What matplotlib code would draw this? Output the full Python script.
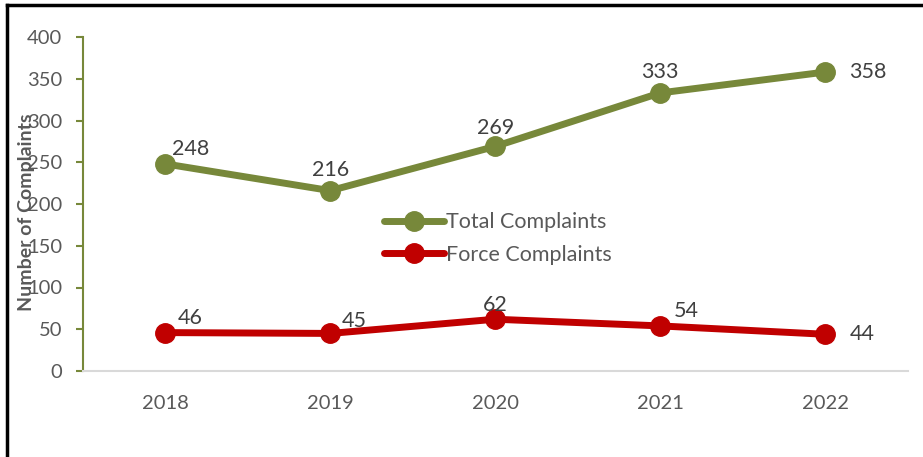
import matplotlib.pyplot as plt
from matplotlib.lines import Line2D

years = ['2018', '2019', '2020', '2021', '2022']
total = [248, 216, 269, 333, 358]
force = [46, 45, 62, 54, 44]

# label offsets in pixels (dx, dy) from each point
total_off = [(25, 15), (0, 21), (0, 18), (0, 21), (43, 0)]
force_off = [(25, 15), (24, 12), (0, 14), (26, 15), (37, 0)]

olive = '#77883A'
red = '#C00000'
grey = '#595959'

plt.rcParams['font.family'] = ['Lato', 'DejaVu Sans']

fig = plt.figure(figsize=(9.23, 4.57), dpi=100)
ax = fig.add_axes([83/923, 1-371/457, (907.5-83)/923, (371-37)/457])

x = range(len(years))
ax.plot(x, total, color=olive, lw=5, marker='o', ms=14, label='Total Complaints', solid_capstyle='round')
ax.plot(x, force, color=red, lw=5, marker='o', ms=14, label='Force Complaints', solid_capstyle='round')

for i, v in enumerate(total):
    ax.annotate(str(v), (i, v), xytext=total_off[i], textcoords='offset pixels',
                ha='center', va='center', fontsize=15.5, color='#404040')
for i, v in enumerate(force):
    ax.annotate(str(v), (i, v), xytext=force_off[i], textcoords='offset pixels',
                ha='center', va='center', fontsize=15.5, color='#404040')

ax.set_xlim(-0.5, 4.5)
ax.set_ylim(0, 400)
ax.set_yticks(range(0, 401, 50))
ax.set_xticks(list(x))
ax.set_xticklabels(years)

for s in ['top', 'right']:
    ax.spines[s].set_visible(False)
ax.spines['left'].set_color(olive)
ax.spines['left'].set_linewidth(1.5)
ax.spines['bottom'].set_color('#D9D9D9')
ax.spines['bottom'].set_linewidth(1.5)
ax.tick_params(axis='y', colors=olive, labelcolor=grey, labelsize=14.5, length=5, width=1.5, pad=10)
ax.tick_params(axis='x', length=0, labelcolor=grey, labelsize=14.5, pad=17)

fig.text(27/923, 1-212/457, 'Number of Complaints', rotation=90, ha='center', va='center',
         fontsize=14, fontweight='bold', color=grey)

ax.legend(loc='center left', bbox_to_anchor=(375/923, 1-238.5/457), bbox_transform=fig.transFigure,
          frameon=False, fontsize=15.5, labelcolor=grey, handlelength=2.8, handletextpad=0.1,
          labelspacing=0.6, borderaxespad=0)

# black frame on left and top edges
fig.add_artist(Line2D([7/923, 7/923], [0, 1-5/457], color='black', lw=2.5, transform=fig.transFigure))
fig.add_artist(Line2D([7/923, 1], [1-5/457, 1-5/457], color='black', lw=2.5, transform=fig.transFigure))

fig.savefig('out.png', dpi=100)
